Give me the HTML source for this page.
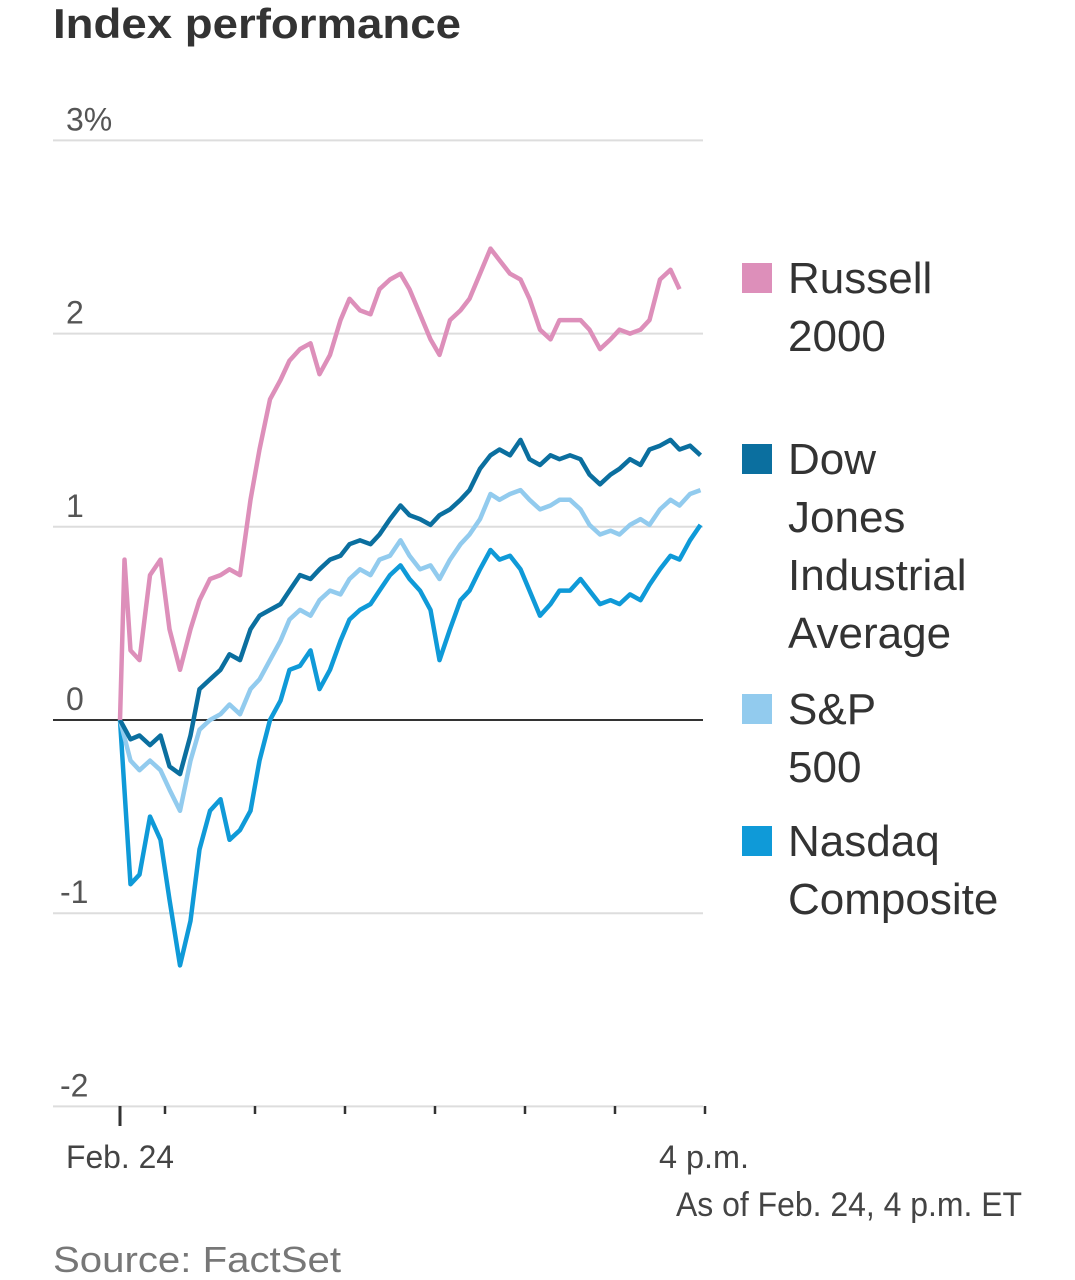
<!DOCTYPE html>
<html><head><meta charset="utf-8"><style>
body{margin:0;background:#fff;width:1075px;height:1280px;overflow:hidden;font-family:"Liberation Sans",sans-serif}
svg{position:absolute;left:0;top:0}
</style></head><body>
<svg width="1075" height="1280">
<text x="53" y="38" font-size="42" font-weight="bold" fill="#333" textLength="408" lengthAdjust="spacingAndGlyphs">Index performance</text>
<g id="grid"></g><g id="lines"></g><g id="legend"></g>
<text x="120" y="1168" font-size="32" fill="#444" text-anchor="middle" textLength="108" lengthAdjust="spacingAndGlyphs">Feb. 24</text>
<text x="704" y="1168" font-size="32" fill="#444" text-anchor="middle" textLength="90" lengthAdjust="spacingAndGlyphs">4 p.m.</text>
<text x="1022" y="1216" font-size="34" fill="#444" text-anchor="end" textLength="346" lengthAdjust="spacingAndGlyphs">As of Feb. 24, 4 p.m. ET</text>
<text x="53" y="1272" font-size="36" fill="#777" textLength="288" lengthAdjust="spacingAndGlyphs">Source: FactSet</text>
</svg>
<script>
const yTicks=[3,2,1,0,-1,-2];
const yTickLabels=["3%","2","1","0","-1","-2"];
const xTickMinutes=[0,30,90,150,210,270,330,390];
const times=[0,7,13,20,27,33,40,47,53,60,67,73,80,87,93,100,107,113,120,127,133,140,147,153,160,167,173,180,187,193,200,207,213,220,227,233,240,247,253,260,267,273,280,287,293,300,307,313,320,327,333,340,347,353,360,367,373,380,387];
const russellTimes=[0,3,7,13,20,27,33,40,47,53,60,67,73,80,87,93,100,107,113,120,127,133,140,147,153,160,167,173,180,187,193,200,207,213,220,227,233,240,247,253,260,267,273,280,287,293,300,307,313,320,327,333,340,347,353,360,367,373];
const russell=[0,0.83,0.36,0.31,0.75,0.83,0.47,0.26,0.47,0.62,0.73,0.75,0.78,0.75,1.14,1.40,1.66,1.76,1.86,1.92,1.95,1.79,1.89,2.07,2.18,2.12,2.10,2.23,2.28,2.31,2.23,2.10,1.97,1.89,2.07,2.12,2.18,2.31,2.44,2.38,2.31,2.28,2.18,2.02,1.97,2.07,2.07,2.07,2.02,1.92,1.97,2.02,2.00,2.02,2.07,2.28,2.33,2.23];
const dow=[0,-0.10,-0.08,-0.13,-0.08,-0.24,-0.28,-0.08,0.16,0.21,0.26,0.34,0.31,0.47,0.54,0.57,0.60,0.67,0.75,0.73,0.78,0.83,0.85,0.91,0.93,0.91,0.96,1.04,1.11,1.06,1.04,1.01,1.06,1.09,1.14,1.19,1.30,1.37,1.40,1.37,1.45,1.35,1.32,1.37,1.35,1.37,1.35,1.27,1.22,1.27,1.30,1.35,1.32,1.40,1.42,1.45,1.40,1.42,1.37];
const sp=[0,-0.21,-0.26,-0.21,-0.26,-0.36,-0.47,-0.21,-0.05,0,0.03,0.08,0.03,0.16,0.21,0.31,0.41,0.52,0.57,0.54,0.62,0.67,0.65,0.73,0.78,0.75,0.83,0.85,0.93,0.85,0.78,0.80,0.73,0.83,0.91,0.96,1.04,1.17,1.14,1.17,1.19,1.14,1.09,1.11,1.14,1.14,1.09,1.01,0.96,0.98,0.96,1.01,1.04,1.01,1.09,1.14,1.11,1.17,1.19];
const nasdaq=[0,-0.85,-0.80,-0.50,-0.62,-0.93,-1.27,-1.04,-0.67,-0.47,-0.41,-0.62,-0.57,-0.47,-0.21,0,0.10,0.26,0.28,0.36,0.16,0.26,0.41,0.52,0.57,0.60,0.67,0.75,0.80,0.73,0.67,0.57,0.31,0.47,0.62,0.67,0.78,0.88,0.83,0.85,0.78,0.67,0.54,0.60,0.67,0.67,0.73,0.67,0.60,0.62,0.60,0.65,0.62,0.70,0.78,0.85,0.83,0.93,1.01];
const NS="http://www.w3.org/2000/svg";
const X=m=>120+m*1.5, Y=v=>720-v*193.2;
function mk(tag,attrs,parent){const e=document.createElementNS(NS,tag);for(const k in attrs)e.setAttribute(k,attrs[k]);parent.appendChild(e);return e;}
const grid=document.getElementById('grid');
yTicks.forEach((t,i)=>{
  const l=mk('line',{x1:53,x2:703,y1:Y(t),y2:Y(t),stroke:t===0?'#333':'#ddd','stroke-width':2},grid);
  
  
  const tx=mk('text',{x:t<0?60:66,y:Y(t)-10,'font-size':32,fill:'#555'},grid);
  tx.textContent=yTickLabels[i];
  
  
});
xTickMinutes.forEach((m,i)=>{
  const l=mk('line',{x1:X(m),x2:X(m),y1:1106,y2:i===0?1126:1114,stroke:'#333','stroke-width':i===0?3:2.5},grid);
  
  
});
const series=[["nasdaq-line",times,nasdaq,"#0f9ad8"],["sp500-line",times,sp,"#92cbee"],["dow-line",times,dow,"#0b6f9f"],["russell-line",russellTimes,russell,"#dd8fba"]];
const lines=document.getElementById('lines');
series.forEach(s=>{
  const d=s[1].map((t,i)=>(i?'L':'M')+X(t).toFixed(1)+','+Y(s[2][i]).toFixed(1)).join('');
  const p=mk('path',{d:d,fill:'none',stroke:s[3],'stroke-width':4.5,'stroke-linejoin':'round'},lines);
  
  
});
const legendNames=[["Russell","2000"],["Dow","Jones","Industrial","Average"],["S&P","500"],["Nasdaq","Composite"]];
const legendColors=["#dd8fba","#0b6f9f","#92cbee","#0f9ad8"];
const legendTops=[293,474,724,856];
const lg=document.getElementById('legend');
legendNames.forEach((n,i)=>{
  const r=mk('rect',{x:742,y:legendTops[i]-30,width:30,height:30,fill:legendColors[i]},lg);
  
  
  n.forEach((w,j)=>{
    const t=mk('text',{x:788,y:legendTops[i]+j*58,'font-size':44,fill:'#333'},lg);
    t.textContent=w;
    
    
  });
});
</script>
</body></html>
